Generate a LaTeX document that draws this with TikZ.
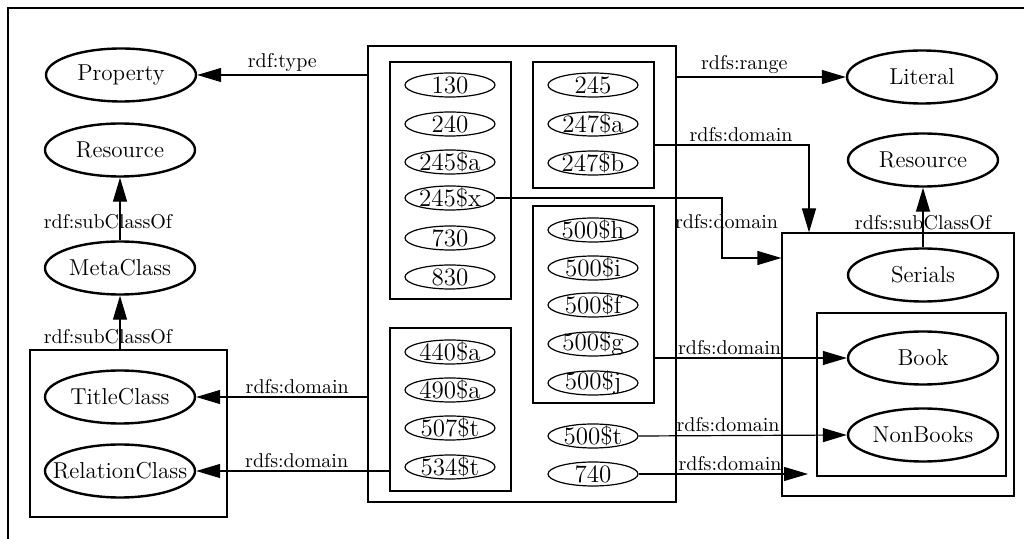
\documentclass[tikz,border=0pt]{standalone}
\usepackage{amsmath,amssymb}
\usepackage{xcolor}
\usepackage{tikz}
\usetikzlibrary{shapes.geometric, arrows.meta, positioning, fit}

\tikzset{
  cls/.style={ellipse, draw, line width=1.2pt, minimum width=75pt, minimum height=26.5pt, inner xsep=-8pt, inner ysep=0pt, font=\fontsize{11.5}{13}\selectfont},
  fld/.style={ellipse, draw, line width=0.6pt, minimum width=45pt, minimum height=12pt, inner xsep=-5pt, inner ysep=-2pt, font=\fontsize{12.5}{14}\selectfont},
  grp/.style={draw, line width=0.6pt, inner sep=0pt},
  lbl/.style={inner sep=1.5pt, font=\normalsize},
  arr/.style={line width=0.6pt, -{Triangle[length=12pt, width=7pt]}}
}

\begin{document}
\begin{tikzpicture}[x=0.5pt, y=-0.5pt]
  \useasboundingbox (0,0) rectangle (1024,539);
  % frame
  \draw[line width=0.6pt] (1024,8) -- (8,8) -- (8,539);

  % boxes
  \node[grp, fit={(368,46) (676,502)}] (cbox) {};
  \node[grp, fit={(390,62) (511,299)}] (boxA) {};
  \node[grp, fit={(533,62) (654,188)}] (boxB) {};
  \node[grp, fit={(533,206) (654,403)}] (boxC) {};
  \node[grp, fit={(390,328) (511,491)}] (boxD) {};
  \node[grp, fit={(30,350) (227,517)}] (leftbox) {};
  \node[grp, fit={(782,233) (1014,496)}] (serbox) {};
  \node[grp, fit={(817,313) (1006,476)}] (bookbox) {};

  % classes
  \node[cls] (property) at (121,75) {Property};
  \node[cls] (resL) at (120,150) {Resource};
  \node[cls] (meta) at (120,268) {MetaClass};
  \node[cls] (title) at (120,397) {TitleClass};
  \node[cls] (relation) at (120,471) {RelationClass};
  \node[cls] (literal) at (922,77) {Literal};
  \node[cls] (resR) at (923,160) {Resource};
  \node[cls] (serials) at (923,275) {Serials};
  \node[cls] (book) at (923,358) {Book};
  \node[cls] (nonbooks) at (923,435) {NonBooks};

  % fields
  \foreach \txt/\y [count=\i] in {130/85, 240/124, 245\$a/162, 245\$x/198, 730/238, 830/277}
    \node[fld] (a\i) at (450,\y) {\txt};
  \foreach \txt/\y [count=\i] in {245/85, 247\$a/124, 247\$b/163}
    \node[fld] (b\i) at (593,\y) {\txt};
  \foreach \txt/\y [count=\i] in {500\$h/230, 500\$i/268, 500\$f/305, 500\$g/344, 500\$j/383}
    \node[fld] (c\i) at (593,\y) {\txt};
  \foreach \txt/\y [count=\i] in {440\$a/352, 490\$a/390, 507\$t/428, 534\$t/467}
    \node[fld] (d\i) at (450,\y) {\txt};
  \node[fld] (x500t) at (593,436) {500\$t};
  \node[fld] (x740) at (593,474) {740};

  % properties
  \draw[arr] (cbox.west |- property) -- node[lbl, above] (lType) {rdf:type} (property.east);
  \draw[arr] (cbox.west |- title) -- node[lbl, above, pos=0.41] (lTitle) {rdfs:domain} (title.east);
  \draw[arr] (boxD.west |- relation) -- node[lbl, above, pos=0.48] (lRel) {rdfs:domain} (relation.east);
  \draw[arr] (meta.north) -- node[lbl, pos=0.3, xshift=-6pt] (lSub1) {rdf:subClassOf} (resL.south);
  \draw[arr] (leftbox.north -| meta) -- node[lbl, pos=0.23, xshift=-6pt] (lSub2) {rdf:subClassOf} (meta.south);

  \draw[arr] (cbox.east |- literal) -- node[lbl, above, pos=0.4] (lRange) {rdfs:range} (literal.west);
  \draw[arr] (boxB.east |- 0,145) -| node[lbl, above, pos=0.28] (lDomB) {rdfs:domain} (serbox.north -| 809,0);
  \draw[arr] (a4.east) -- (a4.east -| 722,0) |- (serbox.west |- 0,258);
  \node[lbl, anchor=south east] (lDomX) at (serbox.north west) {rdfs:domain};
  \draw[arr] (serials.north) -- node[lbl, pos=0.41] (lSub3) {rdfs:subClassOf} (resR.south);
  \draw[arr] (boxC.east |- book) -- node[lbl, above, pos=0.39] (lDomC) {rdfs:domain} (book.west);
  \draw[arr] (x500t.east) -- node[lbl, above, pos=0.43] (lDomT) {rdfs:domain} (nonbooks.west);
  \coordinate (e740) at (808,474);
  \draw[arr] (x740.east) -- node[lbl, above, pos=0.54] (lDom740) {rdfs:domain} (e740);
\end{tikzpicture}
\end{document}
